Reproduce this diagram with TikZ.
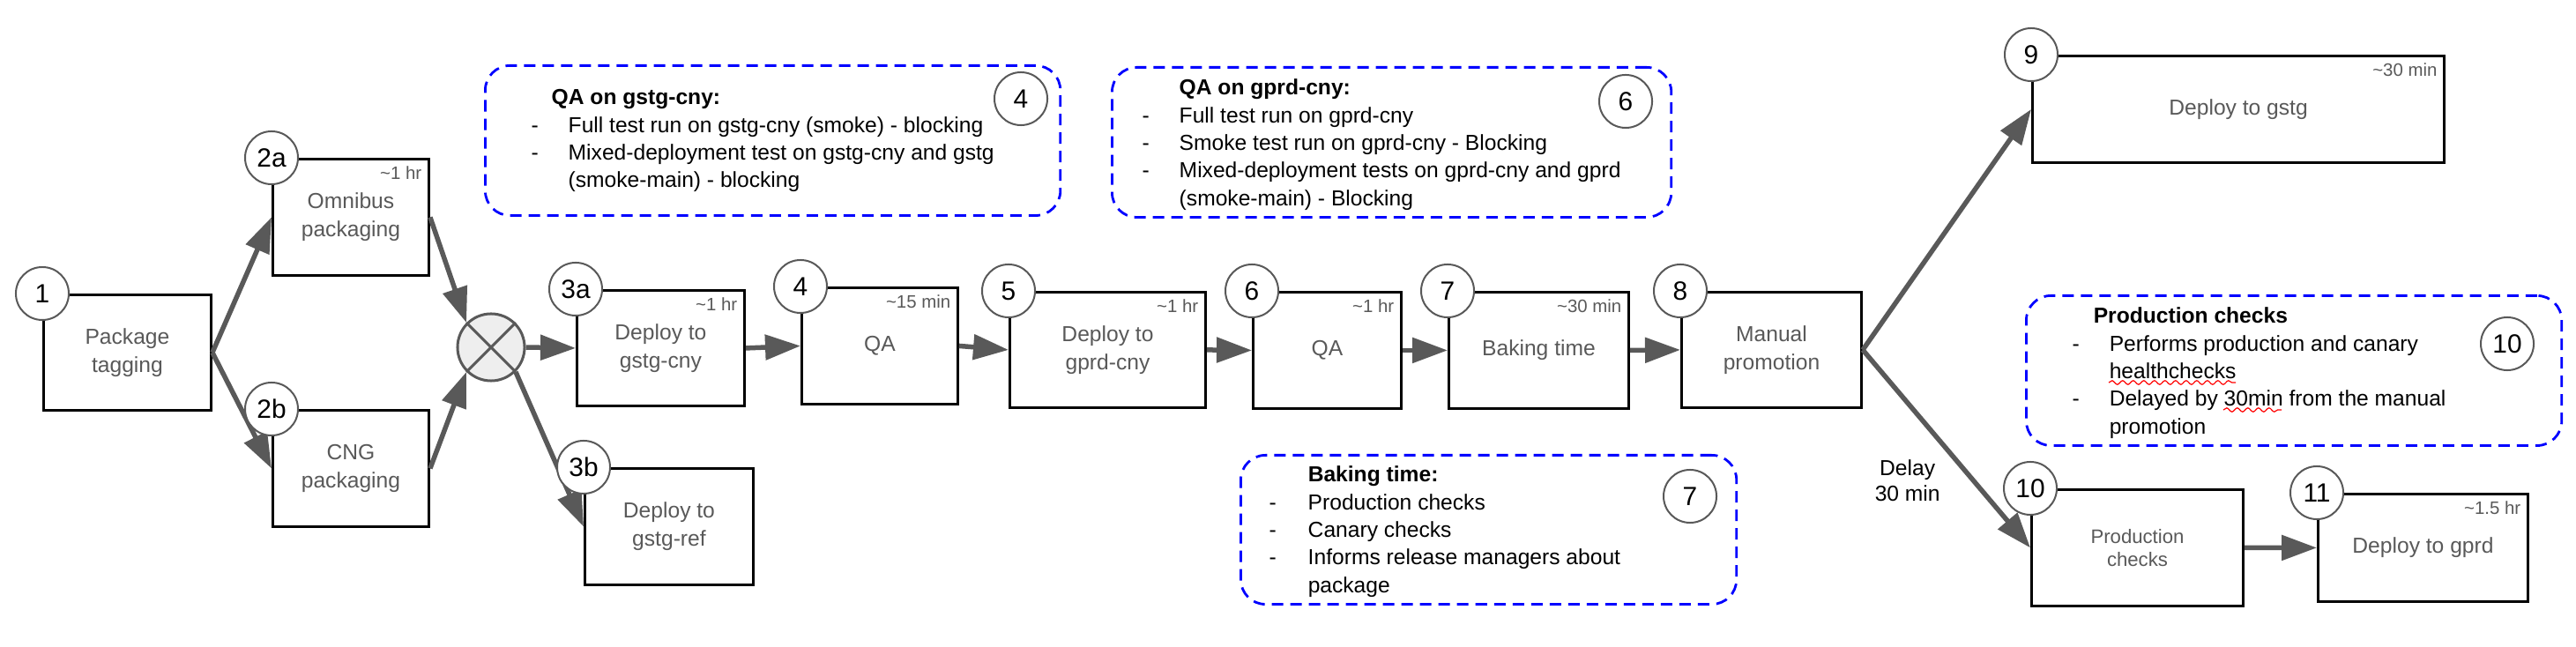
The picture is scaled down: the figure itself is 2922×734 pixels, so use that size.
\documentclass[tikz,border=0pt]{standalone}
\usepackage{fontspec}
\setmainfont{Liberation Sans}
\usetikzlibrary{arrows.meta,decorations.pathmorphing}
\definecolor{gristexte}{HTML}{595959}
\definecolor{grisbord}{HTML}{595959}
\definecolor{grisfond}{HTML}{EEEEEE}
\definecolor{bleunote}{HTML}{0000FF}
\newcommand\env{\textasciitilde}

\begin{document}
\begin{tikzpicture}[x=0.01cm,y=-0.01cm]
			\tikzstyle{boite}=[draw=black,line width=0.028cm,anchor=north west,inner sep=0pt,align=center,text=gristexte,font=\fontsize{7}{9.1}\selectfont]
			\tikzstyle{numero}=[circle,draw=grisbord,line width=0.02cm,fill=white,minimum size=0.6cm,inner sep=0pt,font=\fontsize{8.5}{10}\selectfont]
			\tikzstyle{duree}=[anchor=north east,inner sep=0.09cm,text=gristexte,font=\fontsize{5.8}{7}\selectfont]
			\tikzstyle{fleche}=[-{Triangle[length=0.4cm,width=0.28cm]},line width=0.055cm,color=grisbord]
			\tikzstyle{jonction}=[circle,draw=grisbord,fill=grisfond,line width=0.03cm,minimum size=0.76cm,inner sep=0pt]
			\tikzstyle{croix}=[draw=grisbord,line width=0.03cm]
			\tikzstyle{note}=[draw=bleunote,dash pattern=on 0.13cm off 0.08cm,line width=0.028cm,rounded corners=0.28cm,anchor=north west,inner sep=0pt]
			\tikzstyle{notetexte}=[anchor=base west,inner sep=0pt,font=\fontsize{7}{8.9}\selectfont]
			\tikzstyle{delai}=[align=center,inner sep=0pt,font=\fontsize{7}{8.3}\selectfont]
			\tikzstyle{vague}=[draw=red,line width=0.012cm,decorate,decoration={snake,amplitude=0.022cm,segment length=0.12cm}]
			\def\Tiret{0.42cm}
			\fill[white] (0,0) rectangle (2922,734);
			\useasboundingbox (0,0) rectangle (2922,734);
			\node[note,minimum width=6.52cm,minimum height=1.70cm] (Q4) at (549,73) {};
			\node[note,minimum width=6.34cm,minimum height=1.70cm] (Q6) at (1260,75) {};
			\node[note,minimum width=5.62cm,minimum height=1.69cm] (Q7) at (1406,515) {};
			\node[note,minimum width=6.07cm,minimum height=1.70cm] (Q10) at (2297,334) {};
			\node[notetexte] (T4) at (602,119) {\begin{tabular}[t]{@{}p{\Tiret}@{}l@{}}
				\multicolumn{2}{@{\hspace{0.23cm}}l@{}}{\textbf{QA on gstg-cny:}}\\
				- & Full test run on gstg-cny (smoke) - blocking\\
				- & Mixed-deployment test on gstg-cny and gstg\\
				& (smoke-main) - blocking
			\end{tabular}};
			\node[notetexte] (T6) at (1295,108) {\begin{tabular}[t]{@{}p{\Tiret}@{}l@{}}
				& \textbf{QA on gprd-cny:}\\
				- & Full test run on gprd-cny\\
				- & Smoke test run on gprd-cny - Blocking\\
				- & Mixed-deployment tests on gprd-cny and gprd\\
				& (smoke-main) - Blocking
			\end{tabular}};
			\node[notetexte] (T7) at (1439,547) {\begin{tabular}[t]{@{}p{0.44cm}@{}l@{}}
				& \textbf{Baking time:}\\
				- & Production checks\\
				- & Canary checks\\
				- & Informs release managers about\\
				& package
			\end{tabular}};
			\node[notetexte] (T10) at (2350,367) {\begin{tabular}[t]{@{}p{\Tiret}@{}l@{}}
				\multicolumn{2}{@{\hspace{0.24cm}}l@{}}{\textbf{Production checks}}\\
				- & Performs production and canary\\
				& healthchecks\\
				- & Delayed by 30min from the manual\\
				& promotion
			\end{tabular}};
			\draw[vague] ([shift={(42,67)}]T10.base west) -- ++(144,0);
			\draw[vague] ([shift={(172,98)}]T10.base west) -- ++(66,0);
			\node[numero] (C4) at (1158,112) {4};
			\node[numero] (C6) at (1844,115) {6};
			\node[numero] (C7) at (1917,563) {7};
			\node[numero] (C10) at (2844,390) {10};
			\node[boite,minimum width=1.90cm,minimum height=1.31cm] (B1) at (48,333) {Package\\tagging};
			\node[boite,minimum width=1.77cm,minimum height=1.32cm] (B2a) at (308,179) {Omnibus\\packaging};
			\node[boite,minimum width=1.77cm,minimum height=1.32cm] (B2b) at (308,464) {CNG\\packaging};
			\node[boite,minimum width=1.90cm,minimum height=1.31cm] (B3a) at (653,328) {Deploy to\\gstg-cny};
			\node[boite,minimum width=1.91cm,minimum height=1.32cm] (B3b) at (662,530) {Deploy to\\gstg-ref};
			\node[boite,minimum width=1.77cm,minimum height=1.32cm] (B4) at (908,325) {QA};
			\node[boite,minimum width=2.22cm,minimum height=1.31cm] (B5) at (1144,330) {Deploy to\\gprd-cny};
			\node[boite,minimum width=1.68cm,minimum height=1.32cm] (B6) at (1420,330) {QA};
			\node[boite,minimum width=2.04cm,minimum height=1.32cm] (B7) at (1642,330) {Baking time};
			\node[boite,minimum width=2.04cm,minimum height=1.31cm] (B8) at (1906,330) {Manual\\promotion};
			\node[boite,minimum width=4.67cm,minimum height=1.21cm] (B9) at (2304,62) {Deploy to gstg};
			\node[boite,minimum width=2.40cm,minimum height=1.32cm,font=\fontsize{6.3}{7.4}\selectfont] (B10) at (2303,554) {Production\\checks};
			\node[boite,minimum width=2.38cm,minimum height=1.22cm] (B11) at (2628,559) {Deploy to gprd};
			\node[jonction] (M) at (557,394) {};
			\draw[croix] (M.north west) -- (M.south east) (M.north east) -- (M.south west);
			\draw[fleche] (B1.east)--(B2a.west);
			\draw[fleche] (B1.east)--(B2b.west);
			\draw[fleche] (B2a.east)--(M.north west);
			\draw[fleche] (B2b.east)--(M.south west);
			\draw[fleche] (M.east)--(B3a.west);
			\draw[fleche] (M.south east)--(B3b.west);
			\draw[fleche] (B3a.east)--(B4.west);
			\draw[fleche] (B4.east)--(B5.west);
			\draw[fleche] (B5.east)--(B6.west);
			\draw[fleche] (B6.east)--(B7.west);
			\draw[fleche] (B7.east)--(B8.west);
			\draw[fleche] (B8.east)--(B9.west);
			\draw[fleche] (B8.east)--(B10.west) node[pos=0.66,left=0.35cm,delai,text=black] {Delay\\30 min};
			\draw[fleche] (B10.east)--(B11.west);
			\node[numero] (N1) at (B1.north west) {1};
			\node[numero] (N2a) at (B2a.north west) {2a};
			\node[numero] (N2b) at (B2b.north west) {2b};
			\node[numero] (N3a) at (B3a.north west) {3a};
			\node[numero] (N3b) at (B3b.north west) {3b};
			\node[numero] (N4) at (B4.north west) {4};
			\node[numero] (N5) at (B5.north west) {5};
			\node[numero] (N6) at (B6.north west) {6};
			\node[numero] (N7) at (B7.north west) {7};
			\node[numero] (N8) at (B8.north west) {8};
			\node[numero] (N9) at (B9.north west) {9};
			\node[numero] (N10) at (B10.north west) {10};
			\node[numero] (N11) at (B11.north west) {11};
			\node[duree] (D2a) at (B2a.north east) {\env1 hr};
			\node[duree] (D3a) at (B3a.north east) {\env1 hr};
			\node[duree] (D4) at (B4.north east) {\env15 min};
			\node[duree] (D5) at (B5.north east) {\env1 hr};
			\node[duree] (D6) at (B6.north east) {\env1 hr};
			\node[duree] (D7) at (B7.north east) {\env30 min};
			\node[duree] (D9) at (B9.north east) {\env30 min};
			\node[duree] (D11) at (B11.north east) {\env1.5 hr};
		\end{tikzpicture}
\end{document}
